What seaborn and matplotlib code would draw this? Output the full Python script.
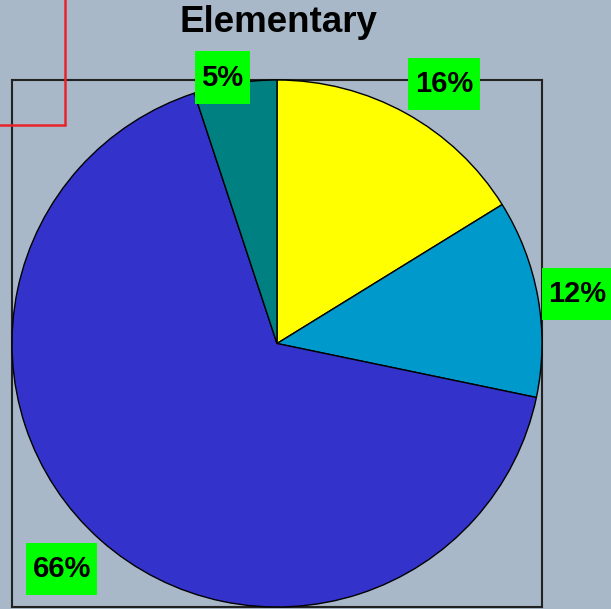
import numpy as np
import matplotlib
matplotlib.use("Agg")
import matplotlib.pyplot as plt
import seaborn as sns
from matplotlib.lines import Line2D

# Share of each group (percent), clockwise from 12 o'clock
groups = ["Group A", "Group B", "Group C", "Group D"]
shares = [16, 12, 66, 5]
labels = ["16%", "12%", "66%", "5%"]
slice_colors = ["#FFFF00", "#0099CC", "#3333CC", "#008080"]
title = "Elementary"

bg = "#A8B8C8"
sns.set_theme(style="white", rc={"figure.facecolor": bg, "axes.facecolor": bg,
                                 "savefig.facecolor": bg})
plt.rcParams["font.family"] = ["Liberation Sans", "DejaVu Sans"]

W, H = 611, 609
fig = plt.figure(figsize=(W / 100, H / 100), dpi=100)
# square frame around the pie
ax = fig.add_axes([12 / W, 2 / H, 530 / W, 527 / H])
ax.set_facecolor(bg)

palette = sns.color_palette(slice_colors)
wedges, _ = ax.pie(shares, colors=palette, startangle=90, counterclock=False,
                   radius=1.0, center=(0, 0),
                   wedgeprops=dict(edgecolor="black", linewidth=1.0))
ax.set_frame_on(True)
ax.set_xlim(-1, 1)
ax.set_ylim(-1, 1)
ax.set_aspect("auto")
ax.set_xticks([])
ax.set_yticks([])
for s in ax.spines.values():
    s.set_visible(True)
    s.set_color("#222222")
    s.set_linewidth(1.5)
    s.set_zorder(0.5)

# percentage tags on green boxes, pushed outward along each slice's mid-angle
label_dist = [1.17, 1.15, 1.18, 1.03]
label_shift = [-3.5, -0.6, -1.7, 2.5]
for w, lab, d, sh in zip(wedges, labels, label_dist, label_shift):
    ang = np.deg2rad((w.theta1 + w.theta2) / 2 + sh)
    t = ax.text(d * np.cos(ang), d * np.sin(ang), lab, ha="center", va="center",
                fontsize=21, fontweight="bold", color="black", clip_on=False,
                bbox=dict(boxstyle="square,pad=0.22", facecolor="#00FF00",
                          edgecolor="none"), zorder=5)
    t.get_bbox_patch().set_mutation_aspect(1.9)

fig.text(278 / W, 1 - 22 / H, title, ha="center", va="center",
         fontsize=26.5, fontweight="bold", color="black")

# red bracket in the top-left corner
red = "#E8232A"
fig.add_artist(Line2D([65 / W, 65 / W], [1.0, 1 - 125 / H], color=red,
                      linewidth=1.8, transform=fig.transFigure, zorder=10))
fig.add_artist(Line2D([0, 65 / W], [1 - 125 / H, 1 - 125 / H], color=red,
                      linewidth=1.8, transform=fig.transFigure, zorder=10))

fig.savefig("out.png", dpi=100, facecolor=bg)
